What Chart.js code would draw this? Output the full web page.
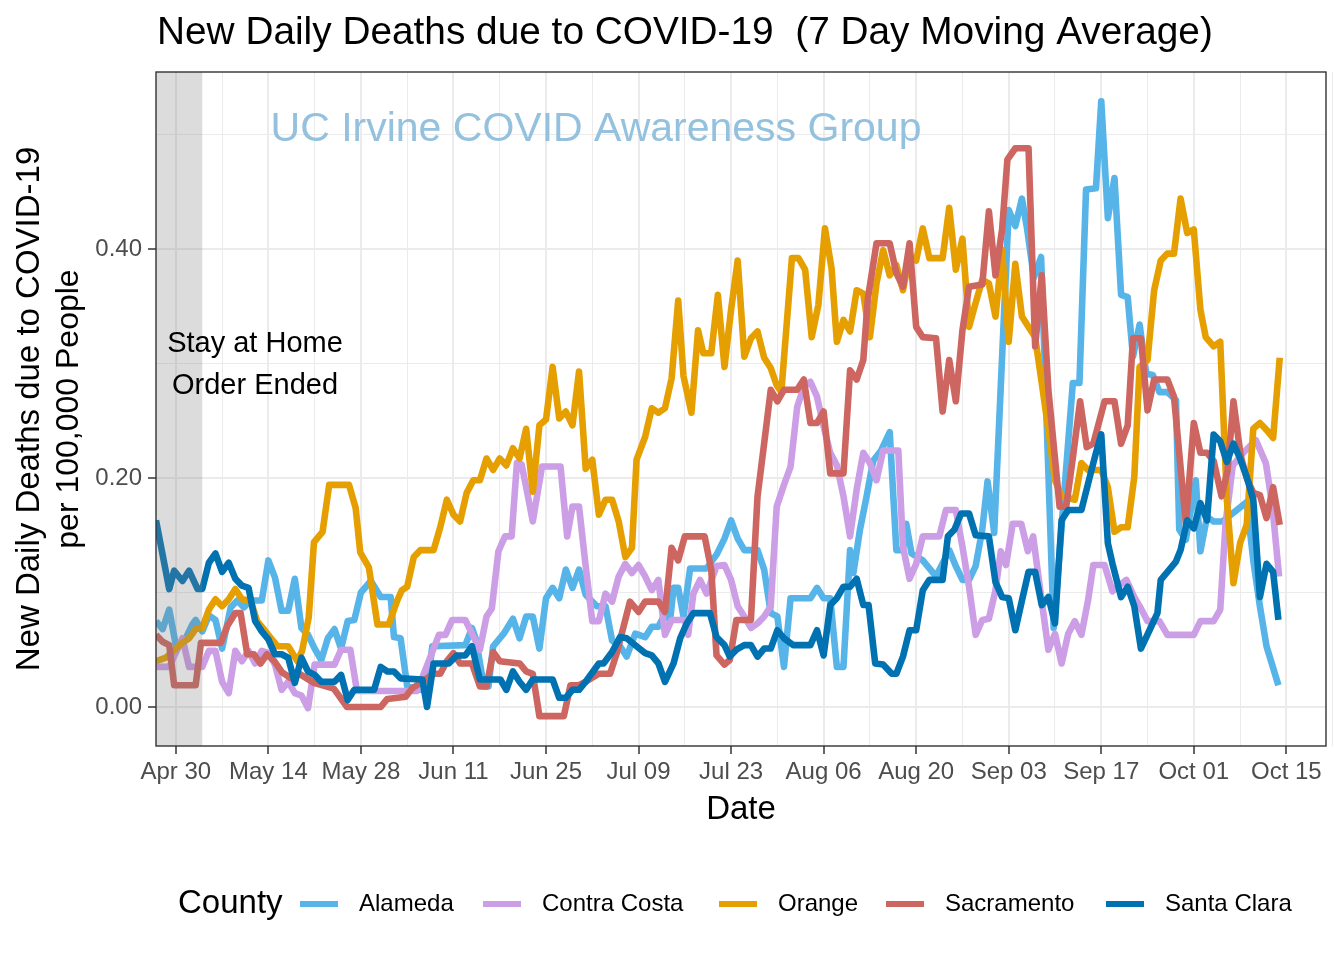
<!DOCTYPE html>
<html><head><meta charset="utf-8">
<script src="https://cdn.jsdelivr.net/npm/chart.js@4.4.0/dist/chart.umd.min.js"></script>
<style>html,body{margin:0;padding:0;background:#fff}canvas{display:block}</style>
</head><body>
<canvas id="c" width="1344" height="960"></canvas>
<script>
// x values are days counted from Apr 30
const xTickDays = [0,14,28,42,56,70,84,98,112,126,140,154,168];
const xTickLabels = ['Apr 30','May 14','May 28','Jun 11','Jun 25','Jul 09','Jul 23','Aug 06','Aug 20','Sep 03','Sep 17','Oct 01','Oct 15'];
const yTickValues = [0, 0.2, 0.4];
const yTickLabels = ['0.00','0.20','0.40'];
const counties = ['Alameda','Contra Costa','Orange','Sacramento','Santa Clara'];
const stayHomeShade = [-3, 4];

const alameda = [[-3,0.075],[-2,0.068],[-1,0.085],[0,0.054],[1,0.054],[2.5,0.072],[3,0.076],[4,0.066],[5,0.08],[6,0.076],[7,0.051],[8.3,0.087],[9.3,0.093],[10.3,0.087],[11.3,0.093],[13,0.093],[14,0.128],[15,0.113],[16,0.084],[17,0.084],[18,0.112],[19,0.069],[20,0.063],[21,0.051],[22,0.041],[23,0.06],[24,0.068],[25,0.051],[26,0.075],[27,0.076],[28,0.1],[29.5,0.11],[31,0.096],[32.5,0.096],[33,0.061],[34,0.06],[35,0.018],[37,0.015],[38,0.015],[38.8,0.053],[43.8,0.054],[44.8,0.069],[45.4,0.059],[46.6,0.018],[47.3,0.018],[48,0.053],[49.6,0.064],[51,0.077],[52,0.06],[53,0.079],[54,0.079],[55,0.051],[56,0.095],[57,0.104],[58,0.095],[59,0.12],[60,0.104],[61,0.12],[62,0.098],[63.7,0.088],[65,0.088],[66,0.058],[67.2,0.053],[68.2,0.044],[69.5,0.064],[71,0.061],[72,0.07],[73,0.07],[73.8,0.079],[74.8,0.077],[75.3,0.104],[76,0.104],[76.8,0.079],[77.8,0.121],[80.3,0.121],[81.8,0.133],[83,0.147],[84,0.163],[85,0.147],[86,0.137],[88,0.137],[89,0.12],[90,0.082],[91,0.079],[92,0.035],[93,0.095],[96,0.095],[97,0.104],[98,0.095],[99,0.095],[100,0.035],[101,0.035],[102,0.137],[102.5,0.117],[103.5,0.155],[104.5,0.184],[105.5,0.215],[106.7,0.224],[108,0.24],[109,0.137],[110,0.137],[110.5,0.16],[111.3,0.134],[113,0.128],[115,0.114],[117,0.137],[118,0.123],[119,0.111],[120,0.111],[121,0.123],[122,0.155],[122.8,0.197],[123.8,0.152],[126,0.434],[127,0.42],[128,0.444],[128.8,0.417],[129.8,0.375],[130.9,0.393],[132.8,0.069],[135.7,0.283],[136.7,0.283],[137.7,0.452],[139.2,0.453],[140,0.529],[141,0.427],[142,0.462],[143,0.36],[144,0.358],[144.8,0.306],[145.8,0.334],[146.8,0.291],[147.8,0.29],[148.8,0.275],[150,0.275],[151.3,0.268],[151.8,0.155],[152.8,0.146],[154.3,0.198],[155,0.136],[156,0.166],[157,0.162],[158.3,0.162],[160.5,0.172],[162,0.179],[163,0.128],[164,0.088],[165,0.053],[166.8,0.019]];

const contraCosta = [[-3,0.035],[-1,0.035],[1,0.06],[2,0.035],[4,0.035],[5,0.049],[6,0.049],[7,0.022],[8,0.012],[9,0.049],[10,0.04],[11,0.049],[12,0.038],[13,0.049],[14,0.047],[15,0.037],[16,0.015],[17,0.022],[18,0.012],[19,0.01],[20,-0.001],[21,0.037],[24,0.037],[25,0.05],[26.4,0.05],[27.4,0.014],[36.5,0.014],[39.8,0.063],[40.8,0.063],[41.8,0.076],[43.8,0.076],[44.8,0.064],[46,0.05],[47,0.079],[47.8,0.086],[48.8,0.136],[49.8,0.149],[50.8,0.149],[51.6,0.213],[52.3,0.212],[53,0.192],[54,0.162],[55.4,0.21],[58.2,0.21],[59.2,0.149],[60,0.175],[61,0.175],[62,0.123],[63,0.075],[64,0.075],[65,0.099],[66,0.092],[67,0.114],[68,0.125],[69,0.117],[70,0.124],[71,0.114],[72,0.102],[73,0.111],[74,0.063],[75,0.076],[77,0.076],[77.5,0.063],[78.3,0.099],[79.3,0.111],[80.3,0.099],[81.8,0.123],[83,0.124],[84,0.111],[85,0.088],[86,0.079],[87,0.069],[88,0.073],[89,0.079],[90,0.088],[90.9,0.175],[92,0.194],[93,0.21],[94,0.262],[95,0.28],[96,0.284],[97,0.271],[98,0.245],[99,0.222],[100,0.211],[101,0.184],[102,0.149],[103,0.19],[104,0.222],[105,0.213],[106,0.198],[107,0.224],[109.3,0.224],[110,0.14],[111,0.112],[112,0.125],[113,0.149],[115.5,0.149],[116.5,0.172],[118,0.172],[119,0.14],[120,0.105],[121,0.063],[122,0.076],[123,0.077],[124,0.102],[124.8,0.136],[125.6,0.124],[126.6,0.16],[127.9,0.16],[128.9,0.136],[129.7,0.149],[130.7,0.105],[132,0.05],[133,0.064],[134,0.038],[135,0.064],[136,0.075],[137,0.063],[138,0.093],[138.8,0.124],[140.5,0.124],[141.7,0.101],[142.5,0.105],[143.8,0.111],[145,0.096],[146,0.086],[147,0.075],[148.8,0.075],[150,0.063],[154,0.063],[155,0.075],[157,0.075],[158,0.085],[158.8,0.16],[159.9,0.211],[161.5,0.222],[163.4,0.233],[164.9,0.213],[165.9,0.175],[166.9,0.114]];

const orange = [[-3,0.04],[-1.5,0.043],[0,0.051],[1,0.056],[2,0.06],[3,0.068],[4,0.069],[5,0.085],[6,0.094],[7,0.088],[8,0.094],[9,0.103],[10,0.094],[11.3,0.093],[12.3,0.075],[13.3,0.068],[14.4,0.06],[15.4,0.053],[17,0.053],[18.4,0.04],[19.1,0.049],[20.1,0.078],[20.9,0.144],[22.2,0.153],[23.2,0.194],[26.2,0.194],[27.2,0.174],[27.9,0.135],[29.2,0.122],[30.5,0.072],[32.2,0.072],[33.5,0.093],[34.2,0.102],[35,0.105],[36,0.131],[37,0.137],[39,0.137],[40,0.157],[41,0.181],[42,0.168],[43,0.162],[44,0.187],[45,0.198],[46,0.198],[47,0.217],[48,0.207],[49,0.217],[50,0.211],[51,0.226],[52,0.217],[53,0.243],[54,0.188],[55,0.246],[56,0.251],[57,0.297],[58,0.252],[59,0.258],[60,0.246],[61,0.293],[62,0.208],[63,0.216],[64,0.168],[65,0.181],[66,0.181],[67,0.162],[68,0.131],[69,0.139],[69.7,0.216],[71,0.236],[72,0.261],[73,0.257],[74,0.261],[75,0.287],[76,0.355],[76.8,0.289],[78,0.257],[79,0.329],[79.8,0.309],[81,0.309],[82,0.36],[83,0.297],[84,0.347],[85,0.39],[86,0.306],[87,0.322],[88,0.328],[89,0.305],[90,0.296],[90.9,0.281],[91.6,0.275],[93.2,0.392],[94.2,0.392],[95.2,0.382],[96.2,0.323],[97.2,0.351],[98.2,0.418],[99.2,0.383],[100,0.319],[101,0.338],[102,0.328],[103,0.364],[104,0.361],[105,0.323],[106,0.37],[107,0.399],[108,0.377],[109,0.386],[110,0.364],[111,0.393],[112,0.39],[113,0.418],[114,0.392],[116,0.392],[117,0.436],[118,0.382],[119,0.409],[120,0.332],[121,0.353],[122,0.373],[123,0.37],[124,0.341],[125,0.399],[126,0.319],[127,0.387],[128,0.341],[129,0.332],[130,0.323],[131,0.283],[132,0.242],[133,0.198],[134,0.184],[136,0.181],[137,0.213],[138,0.207],[140,0.207],[141,0.192],[142,0.153],[143,0.157],[144,0.157],[145,0.201],[145.8,0.297],[147,0.303],[148,0.364],[149,0.39],[150,0.396],[151,0.396],[152,0.444],[153,0.414],[154,0.417],[155,0.347],[155.8,0.323],[157,0.315],[158,0.319],[159,0.181],[160,0.108],[161,0.143],[162,0.159],[163,0.243],[164,0.248],[165,0.242],[166,0.235],[167,0.305]];

const sacramento = [[-3,0.063],[-2,0.057],[-1,0.054],[-0.25,0.019],[3,0.019],[3.8,0.056],[6.8,0.056],[7.8,0.071],[9,0.082],[9.8,0.082],[10.8,0.046],[11.8,0.046],[12.8,0.038],[13.8,0.046],[14.9,0.04],[16.1,0.03],[17.4,0.025],[18.4,0.03],[20.9,0.021],[23.9,0.016],[25.9,0],[31,0],[32,0.007],[34.8,0.009],[35.7,0.016],[39,0.029],[40,0.029],[41,0.04],[42,0.047],[43,0.038],[44.8,0.038],[46,0.018],[47,0.018],[48,0.048],[49,0.04],[52,0.038],[53,0.031],[54,0.029],[55,-0.008],[58.7,-0.008],[59.7,0.019],[61,0.019],[62,0.022],[64,0.029],[65.7,0.029],[66.7,0.047],[68.7,0.092],[70,0.083],[71,0.092],[73,0.092],[74,0.083],[75,0.139],[76,0.128],[77,0.149],[80,0.149],[81,0.12],[81.8,0.045],[83,0.037],[83.8,0.041],[84.8,0.076],[87,0.076],[88,0.184],[89,0.23],[90,0.277],[91,0.267],[92,0.277],[94,0.277],[95,0.286],[96,0.248],[97,0.248],[98,0.258],[99,0.204],[101,0.204],[102,0.294],[103,0.286],[104,0.303],[104.7,0.357],[106,0.405],[108,0.405],[109,0.379],[110,0.367],[111,0.405],[112,0.332],[113,0.323],[115,0.322],[116,0.258],[117,0.303],[118,0.267],[119,0.329],[120,0.367],[122,0.369],[123,0.433],[124,0.377],[125,0.417],[125.8,0.478],[127,0.488],[129,0.488],[130,0.315],[131,0.377],[132,0.277],[133.7,0.175],[134.7,0.175],[135.8,0.222],[136.8,0.267],[137.8,0.227],[138.8,0.23],[140.5,0.267],[142,0.267],[143,0.23],[144,0.246],[144.8,0.322],[146,0.322],[147,0.259],[148,0.286],[150,0.286],[151,0.271],[152.8,0.16],[154,0.248],[155,0.222],[156,0.222],[157,0.215],[158.2,0.184],[159.1,0.206],[160,0.267],[161.1,0.219],[162,0.2],[163,0.187],[164,0.185],[165,0.165],[166,0.192],[167,0.159]];

const santaClara = [[-3,0.163],[-1,0.103],[-0.25,0.119],[1,0.110],[2,0.119],[3.3,0.103],[4,0.103],[5,0.126],[6,0.134],[7,0.118],[8,0.126],[9,0.112],[10,0.106],[11,0.104],[12,0.075],[13,0.066],[14,0.059],[15,0.046],[16,0.046],[17,0.043],[18,0.021],[19,0.043],[20,0.031],[21,0.028],[22,0.022],[24,0.022],[25,0.028],[26,0.006],[27,0.015],[30,0.015],[31,0.035],[32,0.031],[33,0.031],[34,0.025],[37.3,0.024],[38,0.0],[39,0.038],[41.3,0.038],[42.5,0.045],[43.8,0.045],[44.8,0.053],[46,0.024],[49.1,0.024],[50,0.015],[51,0.031],[52,0.022],[53,0.015],[54,0.024],[57,0.024],[58,0.008],[59,0.008],[60,0.015],[61,0.015],[62,0.022],[64,0.038],[64.7,0.038],[66,0.048],[67.2,0.061],[68.2,0.06],[69.7,0.053],[71,0.047],[72,0.045],[73,0.038],[74,0.022],[75.3,0.038],[76.3,0.06],[77.3,0.073],[78.3,0.082],[80.8,0.082],[81.8,0.061],[83,0.054],[83.8,0.044],[84.8,0.05],[86,0.054],[87,0.054],[88,0.044],[89,0.051],[90,0.051],[91,0.067],[92,0.06],[93.4,0.054],[96,0.054],[97,0.067],[98,0.045],[99,0.089],[100,0.095],[101,0.105],[102,0.105],[103,0.112],[104,0.089],[104.8,0.089],[105.8,0.038],[107,0.037],[108.3,0.029],[109,0.029],[110,0.044],[111,0.067],[112,0.067],[113,0.102],[114,0.111],[116,0.111],[116.8,0.149],[117.8,0.155],[118.8,0.169],[120,0.169],[121,0.15],[123,0.149],[124,0.109],[125,0.096],[126,0.095],[127,0.067],[128,0.093],[129,0.118],[130,0.118],[131,0.089],[132,0.096],[133,0.073],[134,0.163],[135,0.172],[137,0.172],[138,0.195],[139.2,0.222],[140,0.238],[141,0.143],[141.7,0.125],[143,0.096],[144,0.105],[145,0.088],[146,0.051],[147.3,0.067],[148.5,0.082],[149,0.111],[150.3,0.12],[151.3,0.127],[152,0.137],[153,0.163],[154,0.156],[155,0.178],[156,0.163],[157,0.238],[158,0.232],[159,0.214],[160,0.23],[161,0.217],[162,0.201],[163,0.181],[164,0.096],[165,0.125],[166,0.118],[166.8,0.076]];

const seriesData = [alameda, contraCosta, orange, sacramento, santaClara];
const seriesColors = ['#56B4E9', '#CC9EE6', '#E69F00', '#CD6660', '#0072B2'];

const FONT = "'Liberation Sans', Arial, sans-serif";
const minorX = xTickDays.map(d => d + 7);
const allXTicks = xTickDays.concat(minorX).sort((a,b)=>a-b);
const allYTicks = [0, 0.1, 0.2, 0.3, 0.4, 0.5];

function isMajorX(v){ return xTickDays.indexOf(v) >= 0; }
function isMajorY(v){ return yTickValues.some(t => Math.abs(t - v) < 1e-9); }

const decor = {
  id: 'decor',
  afterDatasetsDraw(chart) {
    const {ctx, chartArea: a, scales: {x}} = chart;
    ctx.save();
    // shaded stay-at-home period (drawn over the lines, semi-transparent)
    const x0 = Math.max(a.left, x.getPixelForValue(stayHomeShade[0]));
    const x1 = x.getPixelForValue(stayHomeShade[1]);
    ctx.fillStyle = 'rgba(127,127,127,0.27)';
    ctx.fillRect(x0, a.top, x1 - x0, a.bottom - a.top);
    // panel border
    ctx.strokeStyle = '#333333';
    ctx.lineWidth = 1.4;
    ctx.strokeRect(a.left, a.top, a.right - a.left, a.bottom - a.top);
    // annotations
    ctx.fillStyle = '#000';
    ctx.font = '29px ' + FONT;
    ctx.textAlign = 'center';
    ctx.textBaseline = 'middle';
    ctx.fillText('Stay at Home', 255, 344);
    ctx.fillText('Order Ended', 255, 386);
    ctx.fillStyle = '#93C1DE';
    ctx.font = '41px ' + FONT;
    ctx.fillText('UC Irvine COVID Awareness Group', 596, 130);
    ctx.restore();
  },
  afterDraw(chart) {
    const {ctx, chartArea: a} = chart;
    ctx.save();
    // title
    ctx.fillStyle = '#000';
    ctx.font = '38.8px ' + FONT;
    ctx.textAlign = 'left';
    ctx.textBaseline = 'alphabetic';
    ctx.fillText('New Daily Deaths due to COVID-19  (7 Day Moving Average)', 157, 44);
    // x axis title
    ctx.font = '33px ' + FONT;
    ctx.textAlign = 'center';
    ctx.textBaseline = 'middle';
    ctx.fillText('Date', (a.left + a.right) / 2, 810);
    // y axis title
    ctx.save();
    ctx.translate(0, (a.top + a.bottom) / 2);
    ctx.rotate(-Math.PI / 2);
    ctx.font = '33px ' + FONT;
    ctx.fillText('New Daily Deaths due to COVID-19', 0, 30);
    ctx.font = '32px ' + FONT;
    ctx.fillText('per 100,000 People', 0, 69);
    ctx.restore();
    // legend
    ctx.font = '33px ' + FONT;
    ctx.textAlign = 'left';
    ctx.fillText('County', 178, 904);
    const keyX = [300, 483, 719, 886, 1106];
    ctx.font = '24px ' + FONT;
    counties.forEach((name, i) => {
      ctx.strokeStyle = seriesColors[i];
      ctx.lineWidth = 6;
      ctx.beginPath();
      ctx.moveTo(keyX[i], 904);
      ctx.lineTo(keyX[i] + 38, 904);
      ctx.stroke();
      ctx.fillStyle = '#000';
      ctx.fillText(name, keyX[i] + 59, 904);
    });
    ctx.restore();
  }
};

new Chart(document.getElementById('c'), {
  type: 'line',
  data: {
    datasets: counties.map((name, i) => ({
      label: name,
      data: seriesData[i].map(p => ({x: p[0], y: p[1]})),
      borderColor: seriesColors[i],
      borderWidth: 6.6,
      pointRadius: 0,
      fill: false,
      tension: 0,
      borderJoinStyle: 'round',
      borderCapStyle: 'butt',
      order: counties.length - i
    }))
  },
  options: {
    responsive: false,
    animation: false,
    events: [],
    layout: {padding: {top: 72, right: 18, left: 0, bottom: 0}},
    plugins: {legend: {display: false}, title: {display: false}, tooltip: {enabled: false}},
    scales: {
      x: {
        type: 'linear',
        min: -3,
        max: 174,
        afterBuildTicks(s) { s.ticks = allXTicks.map(v => ({value: v})); },
        afterFit(s) { s.height = 214; },
        border: {display: false},
        grid: {
          color: '#EBEBEB',
          lineWidth: c => isMajorX(c.tick.value) ? 2 : 1,
          tickColor: c => isMajorX(c.tick.value) ? '#333333' : 'rgba(0,0,0,0)',
          tickLength: 8,
          tickWidth: 1.5
        },
        ticks: {
          autoSkip: false, maxRotation: 0, minRotation: 0, padding: 4,
          color: '#4D4D4D',
          font: {family: FONT, size: 24},
          callback: v => { const i = xTickDays.indexOf(v); return i >= 0 ? xTickLabels[i] : ''; }
        }
      },
      y: {
        type: 'linear',
        min: -0.0341,
        max: 0.5546,
        afterBuildTicks(s) { s.ticks = allYTicks.map(v => ({value: v})); },
        afterFit(s) { s.width = 156; },
        border: {display: false},
        grid: {
          color: '#EBEBEB',
          lineWidth: c => isMajorY(c.tick.value) ? 2 : 1,
          tickColor: c => isMajorY(c.tick.value) ? '#333333' : 'rgba(0,0,0,0)',
          tickLength: 8,
          tickWidth: 1.5
        },
        ticks: {
          autoSkip: false, padding: 6,
          color: '#4D4D4D',
          font: {family: FONT, size: 24},
          callback: v => { const i = yTickValues.findIndex(t => Math.abs(t - v) < 1e-9); return i >= 0 ? yTickLabels[i] : ''; }
        }
      }
    }
  },
  plugins: [decor]
});
</script>
</body></html>
